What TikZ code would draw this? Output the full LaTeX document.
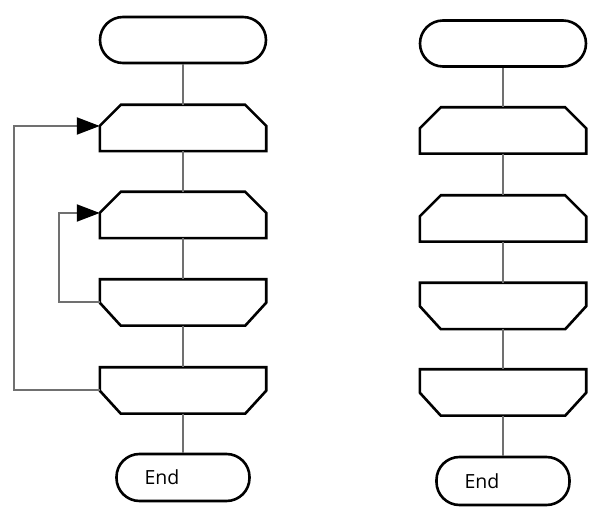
\documentclass[tikz,border=0pt]{standalone}
\usepackage{fontspec}
\setmainfont{Open Sans}
\usepackage{tikz}
\usetikzlibrary{arrows.meta}
\definecolor{linegray}{RGB}{112,112,112}

\begin{document}
\begin{tikzpicture}[
  x=1pt, y=-1pt,
  outline/.style={draw, line width=2.6pt},
  terminal/.style={outline, rounded corners=23pt, inner sep=0pt, minimum width=166pt, minimum height=46pt},
  endbox/.style={outline, rounded corners=23pt, inner ysep=0pt, inner xsep=28pt, text width=77pt, align=left, minimum height=47pt, font=\fontsize{19.5}{22}\selectfont},
  slot/.style={inner sep=0pt, minimum width=166pt, minimum height=46pt},
  loopstart/.style={slot, append after command={\pgfextra{
    \draw[outline] ([yshift=-21pt]\tikzlastnode.north west) -- ([xshift=21pt]\tikzlastnode.north west)
      -- ([xshift=-21pt]\tikzlastnode.north east) -- ([yshift=-21pt]\tikzlastnode.north east)
      -- (\tikzlastnode.south east) -- (\tikzlastnode.south west) -- cycle;}}},
  loopend/.style={slot, append after command={\pgfextra{
    \draw[outline] (\tikzlastnode.north west) -- (\tikzlastnode.north east)
      -- ([yshift=23pt]\tikzlastnode.south east) -- ([xshift=-21pt]\tikzlastnode.south east)
      -- ([xshift=21pt]\tikzlastnode.south west) -- ([yshift=23pt]\tikzlastnode.south west) -- cycle;}}},
  link/.style={draw=linegray, line width=2pt},
  back/.style={link, -{Triangle[length=23pt,width=17pt,fill=black,color=black]}}
]
\useasboundingbox (0,0) rectangle (603,521);

\node[terminal]  (ls) at (183,40)  {};
\node[loopstart] (l1) at (183,128) {};
\node[loopstart] (l2) at (183,215) {};
\node[loopend]   (l3) at (183,302.5) {};
\node[loopend]   (l4) at (183,390.5) {};
\node[endbox]    (le) at (183,477.5) {End};

\node[terminal]  (rs) at (503,43.5) {};
\node[loopstart] (r1) at (503,130.5) {};
\node[loopstart] (r2) at (503,218.5) {};
\node[loopend]   (r3) at (503,306) {};
\node[loopend]   (r4) at (503,392.5) {};
\node[endbox, minimum height=48pt] (re) at (503,481) {End};

\draw[link] (ls) -- (l1);
\draw[link] (l1) -- (l2);
\draw[link] (l2) -- (l3);
\draw[link] (l3) -- (l4);
\draw[link] (l4) -- (le);

\draw[link] (rs) -- (r1);
\draw[link] (r1) -- (r2);
\draw[link] (r2) -- (r3);
\draw[link] (r3) -- (r4);
\draw[link] (r4) -- (re);

\draw[back] (l4.west) -- ++(-86,0) |- ([yshift=2pt]l1.west);
\draw[back] (l3.west) -- ++(-41,0) |- ([yshift=2pt]l2.west);

\end{tikzpicture}
\end{document}
